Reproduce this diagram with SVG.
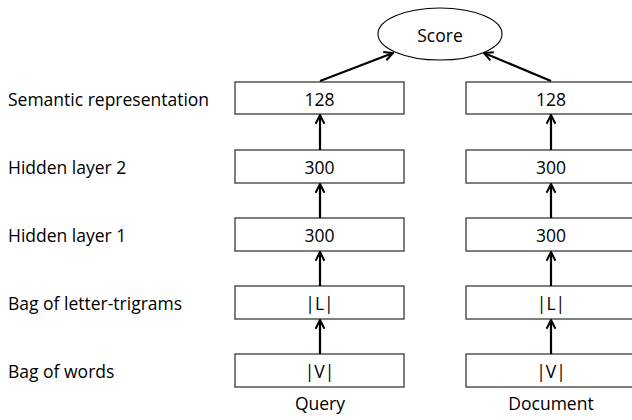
<svg xmlns="http://www.w3.org/2000/svg" width="632" height="420" viewBox="0 0 632 420">
<style>
  .box{fill:#fff;stroke:#3a3a3a;stroke-width:1.3}
  .t{font-family:"Open Sans","Noto Sans",sans-serif;font-size:17.5px;fill:#000}
  .c{text-anchor:middle}
  .arr{stroke:#000;stroke-width:2.2;fill:none;marker-end:url(#ah)}
</style>
<defs>
  <marker id="ah" viewBox="0 0 10 10" refX="9" refY="5" markerWidth="5" markerHeight="5" orient="auto" markerUnits="strokeWidth">
    <path d="M1,1 L9,5 L1,9" fill="none" stroke="#000" stroke-width="1.8"/>
  </marker>
</defs>
<g id="labels">
  <text class="t" x="8" y="106">Semantic representation</text>
  <text class="t" x="8" y="174">Hidden layer 2</text>
  <text class="t" x="8" y="242">Hidden layer 1</text>
  <text class="t" x="8" y="310">Bag of letter-trigrams</text>
  <text class="t" x="8" y="378">Bag of words</text>
</g>
<g id="score">
  <ellipse cx="440" cy="34" rx="62" ry="26" fill="#fff" stroke="#000" stroke-width="1.1"/>
  <text class="t c" x="440" y="42">Score</text>
</g>
<g id="query">
  <g id="q128"><rect class="box" x="235" y="82" width="169" height="32"/><text class="t c" x="319.5" y="106">128</text></g>
  <g id="q300b"><rect class="box" x="235" y="150" width="169" height="33"/><text class="t c" x="319.5" y="174">300</text></g>
  <g id="q300a"><rect class="box" x="235" y="218" width="169" height="33"/><text class="t c" x="319.5" y="242">300</text></g>
  <g id="qL"><rect class="box" x="235" y="286" width="169" height="33"/><text class="t c" x="319.5" y="310">|L|</text></g>
  <g id="qV"><rect class="box" x="235" y="354" width="169" height="33"/><text class="t c" x="319.5" y="378">|V|</text></g>
  <text class="t c" x="320" y="410">Query</text>
</g>
<g id="document">
  <g id="d128"><rect class="box" x="466" y="82" width="170" height="32"/><text class="t c" x="551" y="106">128</text></g>
  <g id="d300b"><rect class="box" x="466" y="150" width="170" height="33"/><text class="t c" x="551" y="174">300</text></g>
  <g id="d300a"><rect class="box" x="466" y="218" width="170" height="33"/><text class="t c" x="551" y="242">300</text></g>
  <g id="dL"><rect class="box" x="466" y="286" width="170" height="33"/><text class="t c" x="551" y="310">|L|</text></g>
  <g id="dV"><rect class="box" x="466" y="354" width="170" height="33"/><text class="t c" x="551" y="378">|V|</text></g>
  <text class="t c" x="551" y="410">Document</text>
</g>
<g id="connectors">
  <line class="arr" x1="320" y1="354" x2="320" y2="320"/>
  <line class="arr" x1="320" y1="286" x2="320" y2="252"/>
  <line class="arr" x1="320" y1="218" x2="320" y2="184"/>
  <line class="arr" x1="320" y1="150" x2="320" y2="115"/>
  <line class="arr" x1="551" y1="354" x2="551" y2="320"/>
  <line class="arr" x1="551" y1="286" x2="551" y2="252"/>
  <line class="arr" x1="551" y1="218" x2="551" y2="184"/>
  <line class="arr" x1="551" y1="150" x2="551" y2="115"/>
  <line class="arr" x1="320" y1="81" x2="393" y2="53"/>
  <line class="arr" x1="551" y1="81" x2="484" y2="53"/>
</g>
</svg>
